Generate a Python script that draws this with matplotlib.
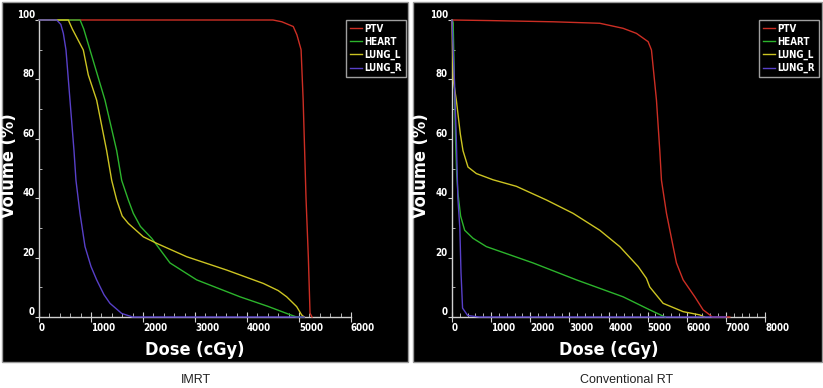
import os
import numpy as np
import matplotlib
matplotlib.use("Agg")
import matplotlib.pyplot as plt
import matplotlib.font_manager as fm
from matplotlib.patches import Rectangle
from matplotlib.ticker import MultipleLocator

## DATA ## (dose cGy, volume %)
structures = ["PTV", "HEART", "LUNG_L", "LUNG_R"]
colors = ["#cc2e24", "#2cb42c", "#ccc422", "#5840c8"]

imrt_ptv_dose = [0, 4500, 4670, 4890, 4960, 5040, 5080, 5135, 5180, 5212, 5250]
imrt_ptv_vol = [100, 100, 99.4, 97.8, 95, 90, 73, 40, 20, 1.3, 0]
imrt_heart_dose = [0, 790, 860, 981, 1269, 1494, 1590, 1718, 1814, 1950, 2167, 2519, 3032, 3865, 4400, 4763, 4955, 5100]
imrt_heart_vol = [100, 100, 97, 89.9, 73, 56, 46, 39.4, 34.9, 30.5, 26.5, 18.2, 12.5, 6.8, 3.6, 1.2, 0, 0]
imrt_lungl_dose = [0, 564, 640, 852, 948, 1109, 1301, 1398, 1494, 1600, 1718, 2006, 2263, 2840, 3610, 4314, 4600, 4763, 4955, 5051, 5100]
imrt_lungl_vol = [100, 100, 97, 89.9, 81.5, 73, 56, 46, 39.4, 34, 31.5, 27, 24.8, 20.3, 15.8, 11.3, 8.9, 6.8, 3.5, 0.7, 0]
imrt_lungr_dose = [0, 340, 420, 468, 519, 596, 673, 711, 788, 885, 1000, 1109, 1250, 1365, 1590, 1800, 5100]
imrt_lungr_vol = [100, 100, 98.5, 95.5, 89.9, 73, 56, 46, 34.9, 23.7, 17, 12.5, 7.5, 4.6, 1.2, 0, 0]

conv_ptv_dose = [0, 1000, 2583, 3777, 4373, 4714, 5013, 5098, 5226, 5311, 5354, 5482, 5652, 5737, 5908, 6206, 6419, 6590, 6650, 7100]
conv_ptv_vol = [100, 99.8, 99.4, 98.9, 97.2, 95.5, 92.7, 89.9, 73, 56, 46, 34.9, 23.7, 18.2, 12.5, 6.8, 2.4, 0.7, 0, 0]
conv_heart_dose = [0, 30, 60, 90, 120, 153, 220, 324, 537, 878, 2072, 3180, 4373, 5055, 5396, 5450]
conv_heart_vol = [100, 99, 80, 60, 48, 41.6, 34, 29.2, 26.5, 23.7, 18.2, 12.5, 6.8, 2.4, 0.3, 0]
conv_lungl_dose = [0, 30, 111, 213, 281, 409, 622, 1049, 1645, 2413, 3095, 3777, 4288, 4757, 4970, 5055, 5396, 5908, 6334, 6450]
conv_lungl_vol = [100, 80, 73, 61.6, 56, 50.5, 48.3, 46.2, 44, 39.4, 34.9, 29.2, 23.7, 17, 13, 10.1, 4.6, 1.8, 0.7, 0]
conv_lungr_dose = [0, 60, 110, 150, 200, 230, 270, 400, 700, 7000]
conv_lungr_vol = [100, 80, 60, 40, 30, 15, 3, 0.5, 0, 0]

panels = [
    ("IMRT", 6000, [(imrt_ptv_dose, imrt_ptv_vol), (imrt_heart_dose, imrt_heart_vol),
                    (imrt_lungl_dose, imrt_lungl_vol), (imrt_lungr_dose, imrt_lungr_vol)]),
    ("Conventional RT", 8000, [(conv_ptv_dose, conv_ptv_vol), (conv_heart_dose, conv_heart_vol),
                               (conv_lungl_dose, conv_lungl_vol), (conv_lungr_dose, conv_lungr_vol)]),
]


## pick a narrow bold face if one is installed
def pick_narrow_bold():
    best, best_score = None, -1
    for f in fm.fontManager.ttflist:
        base = os.path.basename(f.fname).lower()
        name = f.name.lower()
        stretch = str(f.stretch).lower()
        narrow = ("narrow" in base or "condensed" in base or "narrow" in name
                  or "condensed" in name or "condensed" in stretch)
        if not narrow or f.style != "normal":
            continue
        score = 1
        w = f.weight if isinstance(f.weight, int) else {"bold": 700}.get(str(f.weight), 400)
        if w == 700:
            score += 4
        elif w > 500:
            score += 2
        if "extra" in base or "ultra" in base:
            score -= 1
        if "liberation" in name or "dejavu" in name:
            score += 1
        if score > best_score:
            best, best_score = f, score
    return best

nf = pick_narrow_bold()
if nf is not None:
    BOLD = dict(fontproperties=fm.FontProperties(fname=nf.fname))
    big, small = 13, 7
    legprop = fm.FontProperties(fname=nf.fname, size=7)
else:
    BOLD = dict(family="Liberation Sans", fontweight="bold")
    big, small = 11, 6.5
    legprop = fm.FontProperties(family="Liberation Sans", weight="bold", size=6.5)

W, H = 823, 388
fig = plt.figure(figsize=(W / 100, H / 100), dpi=100)
fig.patch.set_facecolor("white")

def fx(px):
    return px / W

def fy(py):
    return 1 - py / H

# panel boxes / axes positions in pixels
boxes = [(2, 2, 408, 362), (413, 2, 822, 362)]
axpos = [(39, 20, 351, 317), (452, 20, 765, 317)]
legpos = [(406, 20), (819, 20)]   # upper-right corner of legend box
captx = [196, 627]
ylabx = [9, 421]

for (title, xmax, series), box, ap, lp, cx, yx in zip(panels, boxes, axpos, legpos, captx, ylabx):
    x0, y0, x1, y1 = box
    fig.patches.append(Rectangle((fx(x0), fy(y1)), fx(x1 - x0), (y1 - y0) / H,
                                 transform=fig.transFigure, facecolor="black",
                                 edgecolor="#9a9a9a", linewidth=1.0, zorder=-5))
    ax = fig.add_axes([fx(ap[0]), fy(ap[3]), fx(ap[2] - ap[0]), (ap[3] - ap[1]) / H])
    ax.set_zorder(2)
    ax.set_facecolor("none")
    for (d, v), name, c in zip(series, structures, colors):
        ax.plot(d, v, color=c, lw=1.0, label=name, clip_on=False, zorder=3)
    ax.set_xlim(0, xmax)
    ax.set_ylim(0, 100)
    for s in ["top", "right"]:
        ax.spines[s].set_visible(False)
    for s in ["left", "bottom"]:
        ax.spines[s].set_color("#d0d0d0")
        ax.spines[s].set_linewidth(1.0)
    ax.xaxis.set_major_locator(MultipleLocator(1000))
    ax.xaxis.set_minor_locator(MultipleLocator(200))
    ax.yaxis.set_major_locator(MultipleLocator(20))
    ax.yaxis.set_minor_locator(MultipleLocator(10))
    ax.tick_params(axis="x", which="major", direction="inout", length=7, color="#d0d0d0",
                   labelcolor="white", pad=1)
    ax.tick_params(axis="x", which="minor", direction="in", length=3, color="#d0d0d0")
    ax.tick_params(axis="y", which="major", direction="out", length=3, color="#d0d0d0",
                   labelcolor="white", pad=0)
    ax.tick_params(axis="y", which="minor", direction="in", length=2, color="#d0d0d0")
    for lab in ax.get_xticklabels():
        lab.update(BOLD)
        lab.set_fontsize(small)
        lab.set_horizontalalignment("left")
    for lab in ax.get_yticklabels():
        lab.update(BOLD)
        lab.set_fontsize(small)
        lab.set_verticalalignment("bottom")
    ax.set_xlabel("Dose (cGy)", color="white", **BOLD)
    ax.set_ylabel("Volume (%)", color="white", **BOLD)
    ax.xaxis.label.set_fontsize(big)
    ax.yaxis.label.set_fontsize(big)
    ax.xaxis.set_label_coords(fx((ap[0] + ap[2]) / 2), fy(350), transform=fig.transFigure)
    ax.xaxis.label.set_verticalalignment("center")
    ax.yaxis.set_label_coords(fx(yx), fy(166), transform=fig.transFigure)
    ax.yaxis.label.set_verticalalignment("center")
    leg = ax.legend(loc="upper right", bbox_to_anchor=(fx(lp[0]), fy(lp[1])),
                    bbox_transform=fig.transFigure, frameon=True, fancybox=False,
                    facecolor="black", edgecolor="#c8c8c8", prop=legprop,
                    handlelength=1.2, handletextpad=0.3, borderpad=0.4,
                    labelspacing=0.3, borderaxespad=0)
    leg.get_frame().set_linewidth(1.0)
    for t in leg.get_texts():
        t.set_color("white")
    fig.text(fx(cx), fy(380), title, ha="center", va="center", fontsize=9,
             family=["Liberation Sans", "DejaVu Sans"], color="#222222")

fig.savefig("out.png", dpi=100)
